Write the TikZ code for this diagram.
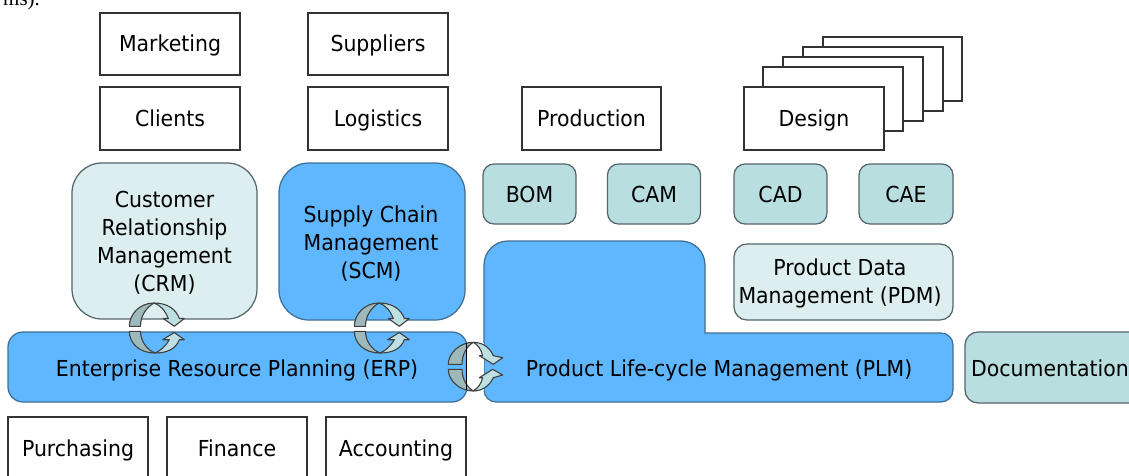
\documentclass[tikz,border=0pt]{standalone}
\usepackage{fontspec}
\setmainfont[FakeStretch=0.93]{DejaVu Sans}
\newfontfamily\serifpart{Liberation Serif}
\definecolor{blueF}{HTML}{5FB8FF}
\definecolor{paleF}{HTML}{DCEEF0}
\definecolor{tealF}{HTML}{B8DEE0}
\definecolor{edgeC}{HTML}{55656C}
\definecolor{blueE}{HTML}{3F6F96}
\definecolor{arrD}{HTML}{9DB9BC}
\definecolor{arrL}{HTML}{BFE0E2}
\tikzset{
  txt/.style={font=\fontsize{22}{28}\selectfont, align=center, text=black, inner sep=0pt},
  sline/.style={txt, text height=16pt, text depth=0pt},
  box/.style={sline, draw=black!80, line width=1.25pt, fill=white, rectangle},
  rbox/.style={sline, draw=edgeC, line width=1.25pt, rectangle, rounded corners=#1},
  rbox/.default=11pt,
  arrdark/.style={fill=arrD, draw=black!75, line width=1.1pt, line join=round},
  arrlight/.style={fill=arrL, draw=black!75, line width=1.1pt, line join=round},
}
\newcommand{\cycV}[2]{%
  \begin{scope}[shift={(#1,#2)}]
    \path[arrlight] (-3,-26) .. controls (10,-26) and (19,-20) .. (22.3,-10.5) -- (27.3,-10.5) -- (17.3,-2.7) -- (6.3,-10.5) -- (11.3,-10.5) .. controls (8,-19) and (3,-24) .. (-3,-26) -- cycle;
    \path[arrdark] (-27.7,-2.7) .. controls (-27.7,-14) and (-18,-26) .. (-3,-26) .. controls (-10,-22) and (-16.5,-14) .. (-16.5,-2.7) -- cycle;
    \path[arrlight] (-2,24) .. controls (10,24) and (19,20) .. (22.3,10.7) -- (27.3,10.7) -- (17.3,3.5) -- (5.7,10.7) -- (12.3,10.7) .. controls (8,18) and (3,22) .. (-2,24) -- cycle;
    \path[arrdark] (-27.7,2.3) -- (-16.5,2.3) .. controls (-16.5,12) and (-10,21) .. (-2,24) .. controls (-18,24) and (-27.7,14) .. (-27.7,2.3) -- cycle;
  \end{scope}}
\begin{document}
\begin{tikzpicture}[x=1pt,y=-1pt]
\useasboundingbox (0,0) rectangle (1129,476);
\clip (0,0) rectangle (1129,476);
\node[anchor=base west, inner sep=0pt, font=\serifpart\fontsize{21}{24}\selectfont] (cut) at (3,6) {ms).};
% design stack
\foreach \a/\b/\c/\d in {823/37/962/101, 803/47/943/111, 783/57/923/121, 763/67/903/131}{
  \draw[line width=1.25pt, draw=black!80, fill=white] (\a,\b) rectangle (\c,\d);
}
\node[box, minimum width=140pt, minimum height=62pt] (marketing) at (170,44) {Marketing};
\node[box, minimum width=140pt, minimum height=63pt] (clients) at (170,118.5) {Clients};
\node[box, minimum width=140pt, minimum height=62pt] (suppliers) at (378,44) {Suppliers};
\node[box, minimum width=140pt, minimum height=63pt] (logistics) at (378,118.5) {Logistics};
\node[box, minimum width=139pt, minimum height=63pt] (production) at (591.5,118.5) {Production};
\node[box, minimum width=140pt, minimum height=63pt] (design) at (814,118.5) {Design};
\node[rbox=30pt, fill=paleF, minimum width=185pt, minimum height=156pt] (crm) at (164.5,241) {};
\node[txt] (crmt) at (164.5,243) {Customer\\Relationship\\Management\\(CRM)};
\node[rbox=30pt, draw=blueE, fill=blueF, minimum width=186pt, minimum height=157pt] (scm) at (372,241.5) {};
\node[txt] (scmt) at (371,243.5) {Supply Chain\\Management\\(SCM)};
\node[rbox, fill=tealF, minimum width=93pt, minimum height=60pt] (bom) at (529.5,194) {BOM};
\node[rbox, fill=tealF, minimum width=93pt, minimum height=60pt] (cam) at (654,194) {CAM};
\node[rbox, fill=tealF, minimum width=93pt, minimum height=60pt] (cad) at (780.5,194) {CAD};
\node[rbox, fill=tealF, minimum width=94pt, minimum height=60pt] (cae) at (906,194) {CAE};
\node[rbox=13pt, fill=paleF, minimum width=219pt, minimum height=76pt] (pdm) at (843.5,282) {};
\node[txt] (pdmt) at (840,283) {Product Data\\Management (PDM)};
\node[rbox=15pt, draw=blueE, fill=blueF, minimum width=459pt, minimum height=70pt] (erp) at (237.5,367) {};
\node[sline] (erpt) at (237,368) {Enterprise Resource Planning (ERP)};
\draw[fill=blueF, draw=blueE, line width=1.25pt, rounded corners=24pt] (484,320) -- (484,241) -- (705,241) [sharp corners] -- (705,333) [rounded corners=12pt] -- (953,333) -- (953,402) -- (484,402) -- cycle;
\node[sline] (plm) at (719,368) {Product Life-cycle Management (PLM)};
\node[rbox=13pt, fill=tealF, minimum width=190pt, minimum height=71pt] (doc) at (1060,367.5) {};
\node[sline] (doct) at (1050,368) {Documentation};
\node[box, minimum width=140pt, minimum height=63pt] (purch) at (78,448.5) {Purchasing};
\node[box, minimum width=140pt, minimum height=63pt] (fin) at (237,448.5) {Finance};
\node[box, minimum width=140pt, minimum height=63pt] (acc) at (396,448.5) {Accounting};
\cycV{157}{329}
\cycV{382}{329}
\begin{scope}[shift={(475,368)}]
  \fill[white] (-8.3,-25) rectangle (9,23);
  \path[arrlight] (-1.7,-25.7) .. controls (8,-25.7) and (15,-20) .. (18.3,-12.3) -- (27.7,-10.3) -- (18.3,-3.7) -- (4.3,-12.3) -- (7.7,-12.3) .. controls (6,-19) and (3,-23) .. (-1.7,-25.7) -- cycle;
  \path[arrlight] (-1.7,23) .. controls (8,23) and (15,17) .. (18.3,9.7) -- (27.7,7) -- (17.7,1.3) -- (4.3,9.7) -- (7.7,9.7) .. controls (6,16) and (3,20) .. (-1.7,23) -- cycle;
  \path[arrdark] (-26.7,-3.7) .. controls (-26.7,-15) and (-15,-25.7) .. (-1.7,-25.7) .. controls (-8,-22) and (-13,-14) .. (-13,-3.7) -- cycle;
  \path[arrdark] (-26.7,1.3) -- (-13,1.3) .. controls (-13,11) and (-8,19) .. (-1.7,23) .. controls (-15,23) and (-26.7,13) .. (-26.7,1.3) -- cycle;
  \draw[black, line width=1.1pt] (-8.3,-25) -- (-8.3,22);
\end{scope}
\end{tikzpicture}
\end{document}
